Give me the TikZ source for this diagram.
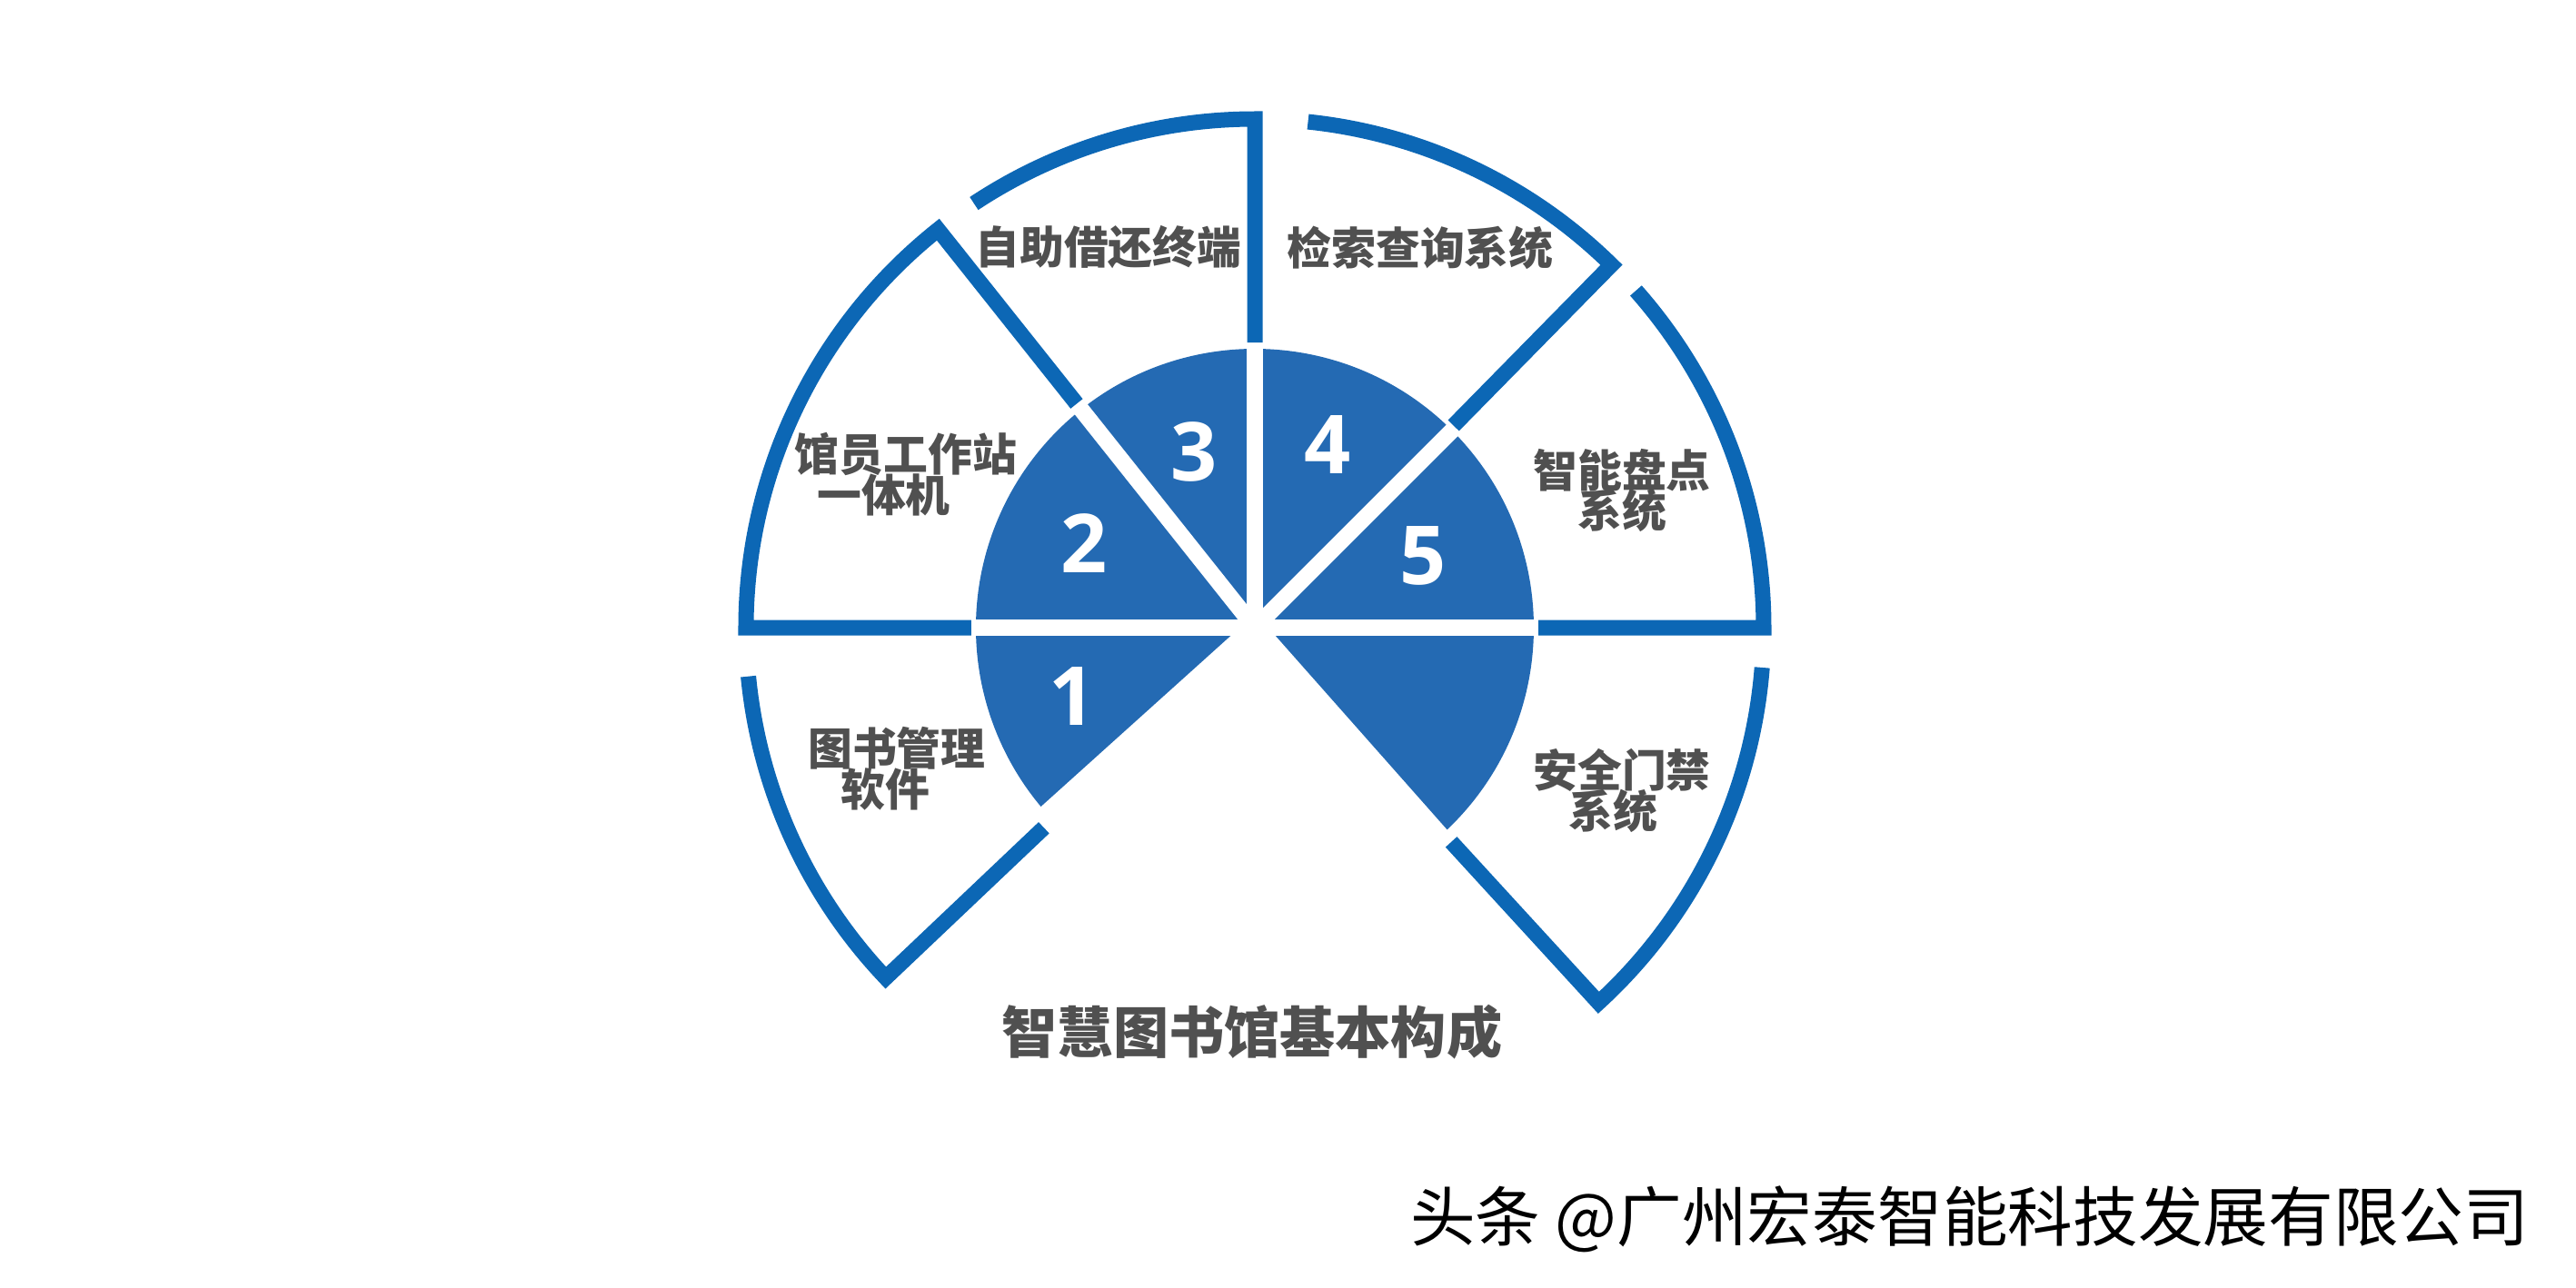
\documentclass[tikz,border=0pt]{standalone}
\usepackage{fontspec}
\usepackage{xcolor}
\newfontfamily\cjk{Noto Sans CJK SC}
\newfontfamily\numfont{Open Sans}
\definecolor{pieblue}{RGB}{36,106,179}
\definecolor{rimblue}{RGB}{12,103,181}
\definecolor{txtgray}{RGB}{80,80,80}
\setlength{\lineskiplimit}{-20pt}

\begin{document}
\begin{tikzpicture}[line join=miter,
    rim/.style={draw=rimblue,line width=0.17cm},
    cut/.style={draw=white,line width=0.18cm},
    num/.style={text=white,font=\numfont\bfseries\fontsize{25.5}{25.5}\selectfont},
    lbl/.style={text=txtgray,align=center,inner sep=0pt,font=\cjk\bfseries\fontsize{13.9}{12.8}\selectfont},
    headline/.style={text=txtgray,inner sep=0pt,font=\cjk\bfseries\fontsize{17.4}{17.4}\selectfont}]
    \useasboundingbox (-13.81,-7.26) rectangle (14.54,6.91);

    % inner half disc, cut into pieces
    \fill[pieblue] (0,0) -- (-48.5:3.07) arc[start angle=-48.5,end angle=222,radius=3.07] -- cycle;
    \draw[cut] (180:3.3) -- (0:3.3);
    \foreach \a in {45,90,128.5}
        \draw[cut] (0,0) -- (\a:3.3);
    \foreach \a in {-48.5,222}
        \draw[cut,line width=0.22cm] (0,0) -- (\a:3.3);

    % outer rims
    \draw[rim] (185.5:5.6) arc[start angle=185.5,end angle=223.5,radius=5.6] -- (223.5:3.2);
    \draw[rim] (180:3.12) -- (180:5.6) arc[start angle=180,end angle=128.5,radius=5.6] -- (128.5:3.15);
    \draw[rim] (123.5:5.6) arc[start angle=123.5,end angle=90,radius=5.6] -- (90:3.14);
    \draw[rim] (84:5.6) arc[start angle=84,end angle=45.5,radius=5.6] -- (45.5:3.12);
    \draw[rim] (41.5:5.6) arc[start angle=41.5,end angle=0,radius=5.6] -- (0:3.12);
    \draw[rim] (-4.5:5.6) arc[start angle=-4.5,end angle=-47.5,radius=5.6] -- (-47.5:3.2);

    \node[num] (n1) at (-2.01,-0.76) {1};
    \node[num] (n2) at (-1.88,0.93) {2};
    \node[num] (n3) at (-0.67,1.94) {3};
    \node[num] (n4) at (0.80,2.01) {4};
    \node[num] (n5) at (1.85,0.79) {5};

    \node[lbl] (soft) at (-3.94,-1.55) {图书管理\\软件\hspace*{0.5em}};
    \node[lbl] (staff) at (-3.84,1.69) {馆员工作站\\一体机\hspace*{1em}};
    \node[lbl] (selfserve) at (-1.61,4.19) {自助借还终端};
    \node[lbl] (search) at (1.82,4.18) {检索查询系统};
    \node[lbl] (stock) at (4.04,1.51) {智能盘点\\系统};
    \node[lbl] (gate) at (4.04,-1.79) {安全门禁\\系统\hspace*{0.4em}};

    \node[headline] (title) at (-0.03,-4.45) {智慧图书馆基本构成};
    \node[anchor=east,inner sep=0pt,font=\cjk\fontsize{20.4}{20.4}\selectfont] (credit) at (14.03,-6.51) {头条 @广州宏泰智能科技发展有限公司};
\end{tikzpicture}
\end{document}
